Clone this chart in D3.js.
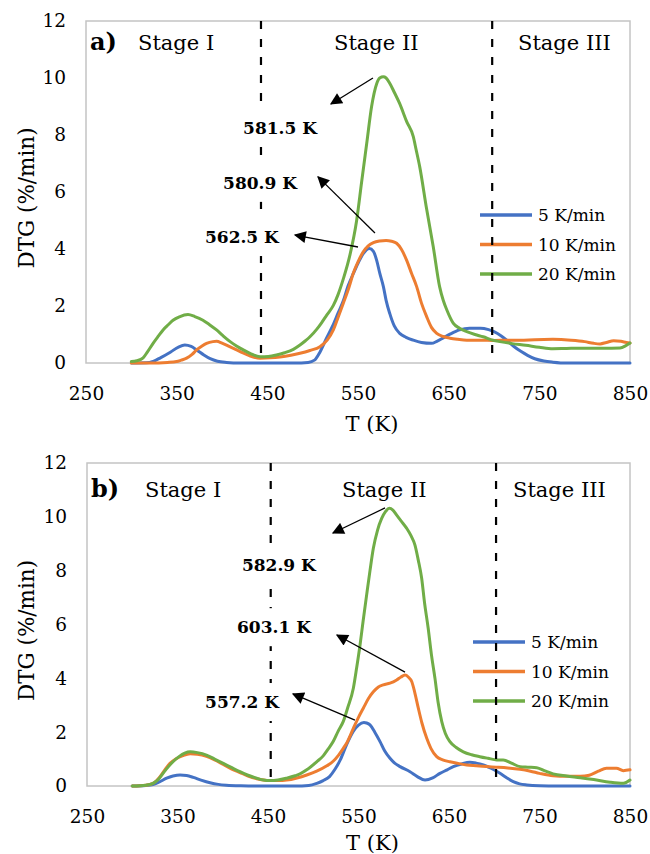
<!DOCTYPE html>
<html>
<head>
<meta charset="utf-8">
<script src="https://cdn.jsdelivr.net/npm/d3@7/dist/d3.min.js"></script>
<style>
  html, body { margin: 0; padding: 0; background: #fff; }
  svg { display: block; }
  text { font-family: "DejaVu Serif", "Liberation Serif", serif; fill: #000; }
</style>
</head>
<body>
<svg id="chart" width="650" height="854"></svg>
<script>
// ---------------- DATA ----------------
const seriesNames = ["5 K/min", "10 K/min", "20 K/min"];
const seriesColors = ["#4472C4", "#ED7D31", "#70AD47"];
const xTicks = [250, 350, 450, 550, 650, 750, 850];
const yTicks = [0, 2, 4, 6, 8, 10, 12];
const stageNames = ["Stage I", "Stage II", "Stage III"];

// Panel a) : [T (K), DTG (%/min)]
const a5 = [[300,0],[320,0.02],[333,0.2],[343,0.38],[352,0.56],[359,0.63],[366,0.58],[372,0.46],[380,0.28],[387,0.15],[395,0.06],[405,0.02],[420,0],[440,0],[460,0],[480,0],[495,0.02],[502,0.1],[508,0.38],[515,0.85],[522,1.3],[528,1.75],[534,2.2],[539,2.7],[545,3.15],[550,3.5],[556,3.85],[562.5,4.02],[567,3.92],[570.6,3.6],[574,3.15],[578,2.68],[581,2.2],[585,1.74],[590,1.3],[596,1.04],[603,0.9],[611,0.8],[620,0.72],[631,0.69],[637,0.76],[644,0.88],[652,1.02],[662,1.16],[673,1.22],[685,1.22],[694,1.17],[700,1.1],[708,0.95],[714,0.8],[722,0.58],[730,0.4],[737,0.27],[745,0.15],[755,0.07],[765,0.03],[780,0],[800,0],[850,0]];
const a10 = [[300,0],[320,0],[340,0.02],[350,0.05],[355,0.1],[361,0.17],[367,0.3],[372,0.46],[378,0.6],[383,0.69],[390,0.75],[394,0.76],[400,0.7],[405,0.63],[412,0.52],[420,0.4],[430,0.26],[442,0.17],[453,0.18],[464,0.21],[476,0.27],[486,0.34],[497,0.44],[508,0.57],[516,0.8],[522.8,1.16],[528,1.6],[533.8,2.1],[540,2.65],[544.8,3.15],[550,3.55],[555.8,3.9],[561,4.1],[567,4.22],[574,4.28],[581,4.3],[587,4.27],[592.6,4.2],[598,3.98],[603.7,3.6],[609,3.15],[614.7,2.68],[620,2.1],[625.8,1.62],[631,1.25],[636.8,1.04],[644,0.93],[651.5,0.87],[660,0.83],[670,0.8],[685,0.8],[700,0.79],[715,0.8],[729,0.8],[745,0.82],[765,0.83],[785,0.8],[800,0.75],[810,0.69],[817,0.67],[824,0.72],[832,0.78],[840,0.76],[846,0.72],[850,0.7]];
const a20 = [[300,0.05],[306,0.08],[313,0.18],[318,0.4],[324,0.69],[330,0.95],[335,1.16],[341,1.35],[346,1.5],[353,1.62],[362.5,1.7],[370,1.63],[379,1.5],[386,1.35],[394,1.16],[401,0.96],[409,0.75],[416,0.6],[423.5,0.46],[432,0.32],[442,0.22],[451,0.23],[460,0.28],[469,0.36],[478.7,0.48],[486,0.63],[492,0.78],[497,0.92],[504.4,1.18],[510,1.42],[515.5,1.68],[522.8,2.02],[528,2.4],[533.8,2.95],[541.2,3.8],[548.5,5.0],[554,6.35],[559.6,7.7],[565,9.0],[570.6,9.8],[574,10.0],[577.9,10.04],[581,10.0],[585.3,9.8],[590,9.5],[596,9.1],[603.7,8.47],[611,7.94],[614,7.5],[618,6.9],[625.7,5.4],[633,4.08],[640,2.68],[644,2.2],[648,1.86],[655,1.4],[662,1.22],[670,1.1],[679,1.0],[688,0.92],[699,0.8],[706.6,0.75],[720,0.68],[735,0.62],[750,0.55],[765,0.5],[780,0.51],[800,0.52],[820,0.52],[839,0.53],[845,0.6],[850,0.7]];

// Panel b)
const b5 = [[300,0],[315,0.02],[323,0.05],[330,0.15],[338,0.29],[345,0.37],[352.8,0.41],[360,0.39],[367.5,0.32],[376,0.22],[386,0.12],[395,0.06],[404,0.03],[420,0.01],[450,0],[480,0],[495,0.02],[504,0.1],[511,0.2],[518,0.35],[524,0.62],[530,0.98],[537,1.55],[544,2.02],[550,2.26],[556,2.36],[559,2.34],[562.7,2.27],[568,2.0],[573.8,1.65],[579,1.3],[584.8,1.03],[590,0.85],[595.9,0.72],[606.9,0.53],[615,0.35],[623.5,0.22],[632,0.3],[640,0.47],[648,0.6],[654.8,0.72],[664,0.82],[673,0.88],[680,0.85],[688,0.78],[697,0.65],[706.4,0.47],[714,0.3],[721,0.16],[728,0.08],[736,0.04],[750,0.01],[770,0],[850,0]];
const b10 = [[300,0],[315,0.03],[323,0.1],[330.7,0.35],[336,0.6],[341.7,0.84],[348,1.0],[356,1.13],[364,1.2],[372,1.18],[382,1.1],[391,0.97],[400.6,0.8],[410,0.63],[419,0.5],[428,0.37],[437.5,0.27],[445,0.22],[452,0.2],[461,0.2],[470.7,0.22],[482,0.3],[492.8,0.41],[503.8,0.55],[515,0.75],[522,0.92],[528,1.15],[533.2,1.4],[537,1.6],[544.3,2.14],[550,2.55],[555.3,2.89],[561,3.25],[566.4,3.5],[572,3.68],[577.4,3.76],[584.8,3.82],[592.2,3.94],[597,4.05],[601.4,4.12],[605,4.05],[608.8,3.88],[612,3.5],[616.1,2.89],[620,2.35],[625.4,1.77],[630,1.4],[636.4,1.09],[643,0.97],[651,0.9],[660,0.84],[669.6,0.78],[680,0.75],[691.7,0.72],[702,0.7],[715,0.67],[728.5,0.62],[740,0.55],[750,0.47],[765,0.38],[780,0.36],[795,0.36],[805,0.4],[815,0.55],[824,0.66],[835,0.66],[842.6,0.57],[850,0.6]];
const b20 = [[300,0],[315,0.03],[323,0.1],[329,0.25],[334,0.47],[340,0.72],[345,0.9],[352,1.1],[358,1.22],[364,1.27],[372,1.24],[382,1.15],[391,1.0],[400.6,0.84],[410,0.68],[419,0.53],[428,0.4],[437.5,0.29],[445,0.22],[452,0.2],[461,0.22],[470.7,0.29],[480,0.38],[485.4,0.45],[492.8,0.6],[503.8,0.9],[511,1.12],[516,1.35],[522,1.65],[527.7,2.05],[533.2,2.4],[538,2.9],[544.3,3.63],[548,4.4],[551.7,5.24],[555,6.1],[559,7.1],[562.7,8.0],[566.4,8.83],[571,9.5],[575.6,9.94],[580,10.2],[584,10.32],[588,10.25],[592,10.07],[597,9.85],[603.3,9.57],[608,9.3],[612.4,8.95],[616,8.4],[619.8,7.72],[623,6.8],[627,5.86],[630.5,4.9],[634.5,4.0],[638,3.1],[642,2.39],[646,1.95],[651,1.65],[658,1.43],[665.8,1.27],[675,1.16],[684,1.09],[693,1.03],[702.7,0.97],[710,0.97],[719,0.85],[728.5,0.72],[737,0.7],[747,0.68],[756,0.56],[765,0.45],[780,0.37],[795,0.31],[810,0.24],[828,0.14],[842.6,0.1],[850,0.22]];

// Stage boundaries (K)
const boundsA = [443, 698];
const boundsB = [453, 702];

// Peak annotations: label, label position [T, DTG], arrow from [T, DTG] to [T, DTG]
const peakLabelsA = ["581.5 K", "580.9 K", "562.5 K"];
const peakLabelPosA = [[464, 8.25], [442, 6.32], [422, 4.42]];
const arrowFromA = [[566.5, 10.0], [568.7, 4.56], [550, 4.07]];
const arrowToA = [[520.2, 9.09], [505.9, 6.53], [480.5, 4.49]];

const peakLabelsB = ["582.9 K", "603.1 K", "557.2 K"];
const peakLabelPosB = [[462, 8.21], [456.6, 5.9], [421.3, 3.12]];
const arrowFromB = [[579.3, 10.33], [601.4, 4.23], [546.1, 2.45]];
const arrowToB = [[521.8, 9.4], [526.2, 5.61], [477.6, 3.42]];

// ---------------- DRAW ----------------
const svg = d3.select("#chart");
const defs = svg.append("defs");
defs.append("marker")
  .attr("id", "arrowhead")
  .attr("viewBox", "0 0 10 10")
  .attr("refX", 9).attr("refY", 5)
  .attr("markerWidth", 14).attr("markerHeight", 12)
  .attr("markerUnits", "userSpaceOnUse")
  .attr("orient", "auto")
  .append("path").attr("d", "M0,0 L10,5 L0,10 Z").attr("fill", "#000");

function drawPanel(cfg) {
  const x = d3.scaleLinear().domain([250, 850]).range([cfg.left, cfg.right]);
  const y = d3.scaleLinear().domain([0, 12]).range([cfg.bottom, cfg.top]);
  const g = svg.append("g");

  // frame
  g.append("rect")
    .attr("x", cfg.left).attr("y", cfg.top)
    .attr("width", cfg.right - cfg.left).attr("height", cfg.bottom - cfg.top)
    .attr("fill", "none").attr("stroke", "#c4c4c4").attr("stroke-width", 1.5);

  // axes (labels only)
  const yAxis = d3.axisLeft(y).tickValues(yTicks).tickSize(0).tickPadding(20);
  const ya = g.append("g").attr("transform", `translate(${cfg.left},0)`).call(yAxis);
  ya.select(".domain").remove();
  ya.selectAll("text").attr("font-size", 18.5).attr("font-family", "DejaVu Serif").attr("fill", "#000");

  const xAxis = d3.axisBottom(x).tickValues(xTicks).tickSize(0).tickPadding(24);
  const xa = g.append("g").attr("transform", `translate(0,${cfg.bottom})`).call(xAxis);
  xa.select(".domain").remove();
  xa.selectAll("text").attr("font-size", 18.5).attr("font-family", "DejaVu Serif").attr("fill", "#000");

  // axis titles
  g.append("text")
    .attr("transform", `translate(${cfg.yTitleX},${(cfg.top + cfg.bottom) / 2 + 6}) rotate(-90)`)
    .attr("text-anchor", "middle").attr("font-size", 21.5)
    .text("DTG (%/min)");
  g.append("text")
    .attr("x", (cfg.left + cfg.right) / 2 + 14).attr("y", cfg.xTitleY)
    .attr("text-anchor", "middle").attr("font-size", 21)
    .text("T (K)");

  // curves
  const line = d3.line().x(d => x(d[0])).y(d => y(d[1])).curve(d3.curveMonotoneX);
  cfg.series.forEach((s, i) => {
    g.append("path").datum(s)
      .attr("d", line)
      .attr("fill", "none")
      .attr("stroke", seriesColors[i])
      .attr("stroke-width", 3)
      .attr("stroke-linejoin", "round")
      .attr("stroke-linecap", "round");
  });

  // legend
  seriesNames.forEach((name, i) => {
    const ly = cfg.legendY + i * 29.5;
    g.append("line")
      .attr("x1", cfg.legendX).attr("x2", cfg.legendX + 52)
      .attr("y1", ly).attr("y2", ly)
      .attr("stroke", seriesColors[i]).attr("stroke-width", 3.5);
    g.append("text")
      .attr("x", cfg.legendX + 58).attr("y", ly + 6)
      .attr("font-size", 17)
      .text(name);
  });

  // stage boundary dashed lines
  cfg.bounds.forEach(b => {
    g.append("line")
      .attr("x1", x(b)).attr("x2", x(b))
      .attr("y1", cfg.top).attr("y2", cfg.bottom)
      .attr("stroke", "#000").attr("stroke-width", 2.2)
      .attr("stroke-dasharray", "8,10");
  });

  // stage labels
  stageNames.forEach((s, i) => {
    g.append("text")
      .attr("x", cfg.stageX[i]).attr("y", cfg.stageY)
      .attr("font-size", 21)
      .text(s);
  });

  // panel letter
  g.append("text")
    .attr("x", cfg.left + 4).attr("y", cfg.stageY)
    .attr("font-size", 24).attr("font-weight", "bold")
    .text(cfg.letter);

  // peak labels with white boxes
  cfg.labels.forEach((lab, i) => {
    const px = x(cfg.labelPos[i][0]), py = y(cfg.labelPos[i][1]);
    const t = g.append("text")
      .attr("x", px).attr("y", py + 6)
      .attr("text-anchor", "middle")
      .attr("font-size", 17).attr("font-weight", "bold")
      .text(lab);
    const bb = t.node().getBBox();
    g.insert("rect", () => t.node())
      .attr("x", bb.x - 4).attr("y", py - 19)
      .attr("width", bb.width + 8).attr("height", 38)
      .attr("fill", "#fff");
  });

  // arrows
  cfg.arrowFrom.forEach((f, i) => {
    const to = cfg.arrowTo[i];
    g.append("line")
      .attr("x1", x(f[0])).attr("y1", y(f[1]))
      .attr("x2", x(to[0])).attr("y2", y(to[1]))
      .attr("stroke", "#000").attr("stroke-width", 1.3)
      .attr("marker-end", "url(#arrowhead)");
  });
}

drawPanel({
  left: 86, right: 630, top: 21, bottom: 363,
  series: [a5, a10, a20], bounds: boundsA,
  labels: peakLabelsA, labelPos: peakLabelPosA,
  arrowFrom: arrowFromA, arrowTo: arrowToA,
  legendX: 480, legendY: 215,
  stageX: [138, 334, 518], stageY: 50, letter: "a)",
  yTitleX: 34, xTitleY: 431
});

drawPanel({
  left: 87, right: 630, top: 463, bottom: 786,
  series: [b5, b10, b20], bounds: boundsB,
  labels: peakLabelsB, labelPos: peakLabelPosB,
  arrowFrom: arrowFromB, arrowTo: arrowToB,
  legendX: 473, legendY: 642,
  stageX: [145, 342, 513], stageY: 497, letter: "b)",
  yTitleX: 34, xTitleY: 850
});
</script>
</body>
</html>
